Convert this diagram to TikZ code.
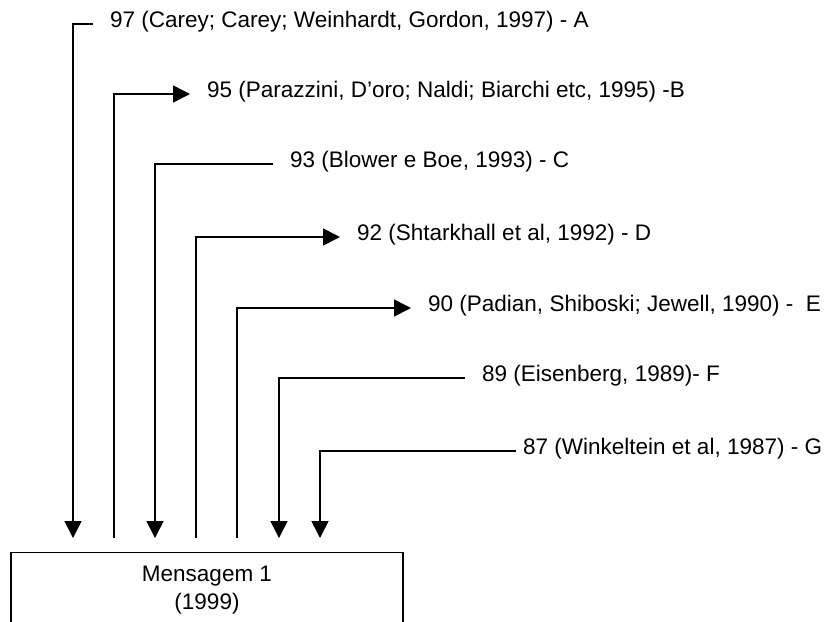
\documentclass[tikz,border=0pt]{standalone}
\usepackage{fontspec}
\setmainfont{Liberation Sans}
\usepackage{tikz}
\usetikzlibrary{arrows.meta,positioning}

\begin{document}
\begin{tikzpicture}[x=1pt, y=-1pt,
        ref/.style={anchor=west, inner xsep=17pt, inner ysep=0pt, text height=0.716em, text depth=0pt, font=\fontsize{22.5}{27}\selectfont},
        msgbox/.style={rectangle, draw, line width=1.4pt, minimum width=392pt, minimum height=100pt, anchor=north},
        msgtext/.style={align=center, inner sep=0pt, font=\fontsize{22.5}{28}\selectfont},
        conn/.style={line width=1.6pt},
        arrow/.style={conn, -{Triangle[length=17pt, width=17pt]}}
    ]
        \useasboundingbox (0,0) rectangle (826,621);
        \clip (0,0) rectangle (826,621);
        \node[msgbox] (box) at (207,552) {};
        \node[msgtext, below=14pt of box.north] (msg) {Mensagem 1\\(1999)};

        \node[ref] (la) at (93,24) {97 (Carey; Carey; Weinhardt, Gordon, 1997) - A};
        \node[ref] (lb) at (190,94) {95 (Parazzini, D'oro; Naldi; Biarchi etc, 1995) -B};
        \node[ref] (lc) at (273,164) {93 (Blower e Boe, 1993) - C};
        \node[ref] (ld) at (340,237) {92 (Shtarkhall et al, 1992) - D};
        \node[ref] (le) at (411,308) {90 (Padian, Shiboski; Jewell, 1990) -\ \ E};
        \node[ref] (lf) at (465,378) {89 (Eisenberg, 1989)- F};
        \node[ref] (lg) at (506,451) {87 (Winkeltein et al, 1987) - G};

        \coordinate (ea) at (73,538);
        \coordinate (eb) at (114,538);
        \coordinate (ec) at (155,538);
        \coordinate (ed) at (196,538);
        \coordinate (ee) at (237,538);
        \coordinate (ef) at (279,538);
        \coordinate (eg) at (320,538);

        \draw[arrow] (la.west) -| (ea);
        \draw[arrow] (eb) |- (lb.west);
        \draw[arrow] (lc.west) -| (ec);
        \draw[arrow] (ed) |- (ld.west);
        \draw[arrow] (ee) |- (le.west);
        \draw[arrow] (lf.west) -| (ef);
        \draw[arrow, shorten <=-10pt] (lg.west) -| (eg);
    \end{tikzpicture}
\end{document}
